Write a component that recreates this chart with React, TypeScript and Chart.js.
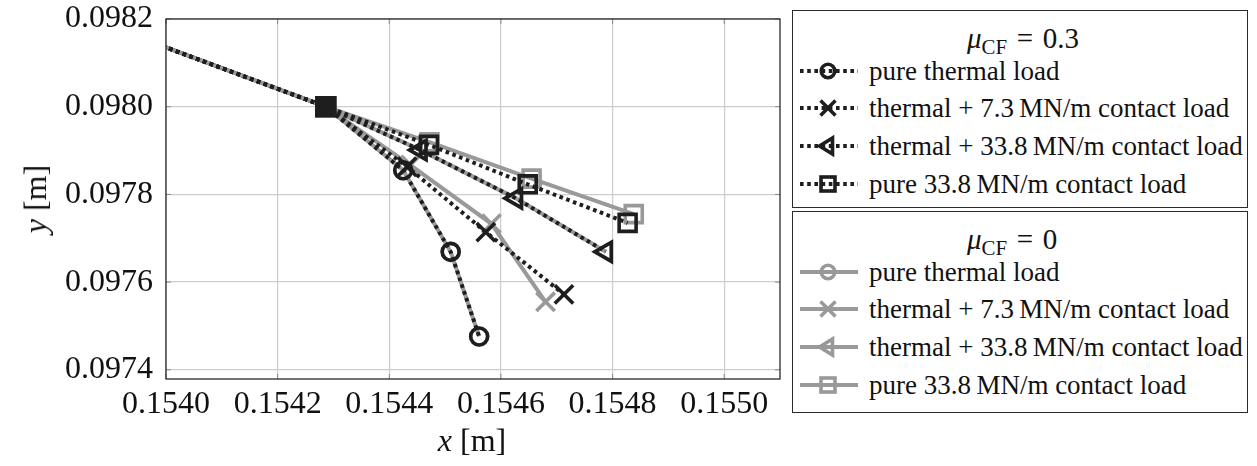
import React, { useEffect, useRef } from 'react';
import { Chart, registerables } from 'chart.js';

Chart.register(...registerables);

// ---------- data ----------
const startPoint = { x: 0.1538, y: 0.09823 };
const commonPoint = { x: 0.154286, y: 0.098 };

const xTicks = [0.154, 0.1542, 0.1544, 0.1546, 0.1548, 0.155];
const yTicks = [0.0974, 0.0976, 0.0978, 0.098, 0.0982];

// mu_CF = 0.3 (black, dotted)
const mu03ThermalX = [0.154425, 0.15451, 0.154561];
const mu03ThermalY = [0.097855, 0.097669, 0.097476];
const mu03Contact73X = [0.154432, 0.154573, 0.154713];
const mu03Contact73Y = [0.097863, 0.097714, 0.097572];
const mu03Contact338X = [0.154456, 0.154627, 0.154788];
const mu03Contact338Y = [0.097901, 0.097791, 0.097669];
const mu03PureContactX = [0.154471, 0.154648, 0.154827];
const mu03PureContactY = [0.097913, 0.097823, 0.097735];

// mu_CF = 0 (gray, solid)
const mu0ThermalX = [0.154425, 0.15451, 0.154561];
const mu0ThermalY = [0.097855, 0.097669, 0.097476];
const mu0Contact73X = [0.154438, 0.154583, 0.15468];
const mu0Contact73Y = [0.097867, 0.097733, 0.097555];
const mu0Contact338X = [0.154456, 0.154627, 0.154788];
const mu0Contact338Y = [0.097901, 0.097791, 0.097669];
const mu0PureContactX = [0.154472, 0.154655, 0.154838];
const mu0PureContactY = [0.097919, 0.097836, 0.097755];

const entryLabels = [
  'pure thermal load',
  'thermal + 7.3\u2009MN/m contact load',
  'thermal + 33.8\u2009MN/m contact load',
  'pure 33.8\u2009MN/m contact load',
];

// ---------- styles ----------
const BLACK = '#1e1e1e';
const GRAY = '#999999';
const FONT = "'Liberation Serif', 'Times New Roman', Tinos, 'DejaVu Serif', 'Noto Serif', Times, serif";

const markerRadius: Record<string, number> = {
  circle: 8.5,
  crossRot: 13,
  triangle: 11,
  rect: 12,
};

function makeDataset(
  label: string,
  xs: number[],
  ys: number[],
  style: string,
  color: string,
  dotted: boolean,
  order: number
) {
  const pts = [startPoint, commonPoint, ...xs.map((x, i) => ({ x, y: ys[i] }))];
  const r = markerRadius[style];
  const rot = style === 'triangle' ? -90 : 0;
  return {
    label,
    data: pts,
    order,
    borderColor: color,
    borderWidth: 4,
    borderDash: dotted ? [3.6, 3.6] : [],
    borderCapStyle: 'butt',
    tension: 0,
    fill: false,
    showLine: true,
    pointStyle: pts.map((_, i) => (i === 1 ? 'rect' : style)),
    pointRadius: pts.map((_, i) => (i === 0 ? 0 : i === 1 ? (dotted ? 12.5 : 0) : r)),
    pointRotation: pts.map((_, i) => (i <= 1 ? 0 : rot)),
    pointBackgroundColor: pts.map((_, i) => (i === 1 ? color : 'rgba(0,0,0,0)')),
    pointBorderColor: color,
    pointBorderWidth: 3.6,
  };
}

const framePlugin = {
  id: 'frame',
  beforeDatasetsDraw(chart: any) {
    const { ctx, chartArea: a, scales } = chart;
    ctx.save();
    ctx.strokeStyle = '#8a8a8a';
    ctx.lineWidth = 1;
    ctx.beginPath();
    xTicks.forEach((v) => {
      const px = scales.x.getPixelForValue(v);
      ctx.moveTo(px, a.bottom);
      ctx.lineTo(px, a.bottom - 5);
      ctx.moveTo(px, a.top);
      ctx.lineTo(px, a.top + 5);
    });
    yTicks.forEach((v) => {
      const py = scales.y.getPixelForValue(v);
      ctx.moveTo(a.left, py);
      ctx.lineTo(a.left + 5, py);
      ctx.moveTo(a.right, py);
      ctx.lineTo(a.right - 5, py);
    });
    ctx.stroke();
    ctx.restore();
  },
  afterDatasetsDraw(chart: any) {
    const { ctx, chartArea: a } = chart;
    ctx.save();
    ctx.strokeStyle = '#2a2a2a';
    ctx.lineWidth = 1.3;
    ctx.strokeRect(a.left, a.top, a.right - a.left, a.bottom - a.top);
    ctx.restore();
  },
};

function Marker({ style, color }: { style: string; color: string }) {
  const cx = 30;
  const cy = 15;
  const sw = 3.6;
  if (style === 'circle') return <circle cx={cx} cy={cy} r={6.8} fill="none" stroke={color} strokeWidth={sw} />;
  if (style === 'crossRot')
    return (
      <g stroke={color} strokeWidth={sw}>
        <line x1={cx - 7.5} y1={cy - 7.5} x2={cx + 7.5} y2={cy + 7.5} />
        <line x1={cx - 7.5} y1={cy + 7.5} x2={cx + 7.5} y2={cy - 7.5} />
      </g>
    );
  if (style === 'triangle')
    return (
      <polygon
        points={`${cx - 8.5},${cy} ${cx + 4.5},${cy - 8} ${cx + 4.5},${cy + 8}`}
        fill="none"
        stroke={color}
        strokeWidth={sw}
      />
    );
  return <rect x={cx - 7} y={cy - 7} width={14} height={14} fill="none" stroke={color} strokeWidth={sw} />;
}

const styles = ['circle', 'crossRot', 'triangle', 'rect'];

function LegendBox({ top, height, title, color, dotted }: { top: number; height: number; title: string; color: string; dotted: boolean }) {
  const rowCenters = [60, 97, 135, 173];
  return (
    <div
      style={{
        position: 'absolute',
        left: 792,
        top,
        width: 456,
        height,
        border: '1.3px solid #2a2a2a',
        boxSizing: 'border-box',
        background: '#fff',
      }}
    >
      <div
        style={{
          position: 'absolute',
          left: 174,
          top: 27 - 18,
          height: 36,
          lineHeight: '36px',
          fontSize: 29,
          whiteSpace: 'nowrap',
          color: '#111',
        }}
      >
        <i>μ</i>
        <span style={{ fontSize: '0.72em', position: 'relative', top: '0.3em' }}>CF</span>
        {'\u2004=\u2004' + title}
      </div>
      {rowCenters.map((c, i) => (
        <div
          key={i}
          style={{
            position: 'absolute',
            left: 5,
            top: c - 15,
            height: 30,
            display: 'flex',
            alignItems: 'center',
            whiteSpace: 'nowrap',
            fontSize: 27,
            color: '#111',
          }}
        >
          <svg width={62} height={30} style={{ display: 'block' }}>
            <line
              x1={2}
              y1={15}
              x2={60}
              y2={15}
              stroke={color}
              strokeWidth={4}
              strokeDasharray={dotted ? '3.6 3.6' : undefined}
            />
            <Marker style={styles[i]} color={color} />
          </svg>
          <span style={{ marginLeft: 9 }}>{entryLabels[i]}</span>
        </div>
      ))}
    </div>
  );
}

export default function App() {
  const ref = useRef<HTMLCanvasElement>(null);

  useEffect(() => {
    if (!ref.current) return;
    Chart.defaults.font.family = FONT;
    const datasets: any[] = [
      makeDataset('μ=0.3 ' + entryLabels[0], mu03ThermalX, mu03ThermalY, 'circle', BLACK, true, 0),
      makeDataset('μ=0.3 ' + entryLabels[1], mu03Contact73X, mu03Contact73Y, 'crossRot', BLACK, true, 0),
      makeDataset('μ=0.3 ' + entryLabels[2], mu03Contact338X, mu03Contact338Y, 'triangle', BLACK, true, 0),
      makeDataset('μ=0.3 ' + entryLabels[3], mu03PureContactX, mu03PureContactY, 'rect', BLACK, true, 0),
      makeDataset('μ=0 ' + entryLabels[0], mu0ThermalX, mu0ThermalY, 'circle', GRAY, false, 1),
      makeDataset('μ=0 ' + entryLabels[1], mu0Contact73X, mu0Contact73Y, 'crossRot', GRAY, false, 1),
      makeDataset('μ=0 ' + entryLabels[2], mu0Contact338X, mu0Contact338Y, 'triangle', GRAY, false, 1),
      makeDataset('μ=0 ' + entryLabels[3], mu0PureContactX, mu0PureContactY, 'rect', GRAY, false, 1),
    ];
    const chart = new Chart(ref.current, {
      type: 'line',
      data: { datasets },
      plugins: [framePlugin],
      options: {
        animation: false,
        responsive: false,
        events: [],
        layout: { padding: { left: 0, top: 19, right: 1257 - 780, bottom: 0 } },
        plugins: { legend: { display: false }, tooltip: { enabled: false } },
        scales: {
          x: {
            type: 'linear',
            min: 0.154,
            max: 0.1551,
            afterBuildTicks: (s: any) => {
              s.ticks = xTicks.map((v) => ({ value: v }));
            },
            afterFit: (s: any) => {
              s.height = 87;
              s.paddingLeft = 0;
              s.paddingRight = 0;
            },
            ticks: {
              autoSkip: false,
              maxRotation: 0,
              padding: 6,
              color: '#111',
              font: { size: 32, family: FONT },
              callback: (v: any) => Number(v).toFixed(4),
            },
            grid: { color: '#cdcdcd', lineWidth: 1.2, drawTicks: false },
            border: { display: false },
          },
          y: {
            type: 'linear',
            min: 0.097379,
            max: 0.0982,
            afterBuildTicks: (s: any) => {
              s.ticks = yTicks.map((v) => ({ value: v }));
            },
            afterFit: (s: any) => {
              s.width = 166;
              s.paddingTop = 0;
              s.paddingBottom = 0;
            },
            ticks: {
              autoSkip: false,
              padding: 13,
              color: '#111',
              font: { size: 32, family: FONT },
              callback: (v: any) => Number(v).toFixed(4),
            },
            grid: { color: '#cdcdcd', lineWidth: 1.2, drawTicks: false },
            border: { display: false },
          },
        },
      } as any,
    });
    return () => chart.destroy();
  }, []);

  return (
    <div
      style={{
        position: 'fixed',
        left: 0,
        top: 0,
        width: 1257,
        height: 466,
        background: '#fff',
        overflow: 'hidden',
        fontFamily: FONT,
        color: '#111',
      }}
    >
      <canvas ref={ref} width={1257} height={466} style={{ position: 'absolute', left: 0, top: 0, width: 1257, height: 466 }} />
      <div
        style={{
          position: 'absolute',
          left: 472,
          top: 440,
          transform: 'translate(-50%, -50%)',
          fontSize: 32,
          whiteSpace: 'nowrap',
          lineHeight: '36px',
        }}
      >
        <i>x</i> [m]
      </div>
      <div
        style={{
          position: 'absolute',
          left: 35,
          top: 199,
          transform: 'translate(-50%, -50%) rotate(-90deg)',
          fontSize: 32,
          whiteSpace: 'nowrap',
          lineHeight: '36px',
        }}
      >
        <i>y</i> [m]
      </div>
      <LegendBox top={10} height={198} title="0.3" color={BLACK} dotted={true} />
      <LegendBox top={211} height={202} title="0" color={GRAY} dotted={false} />
    </div>
  );
}
